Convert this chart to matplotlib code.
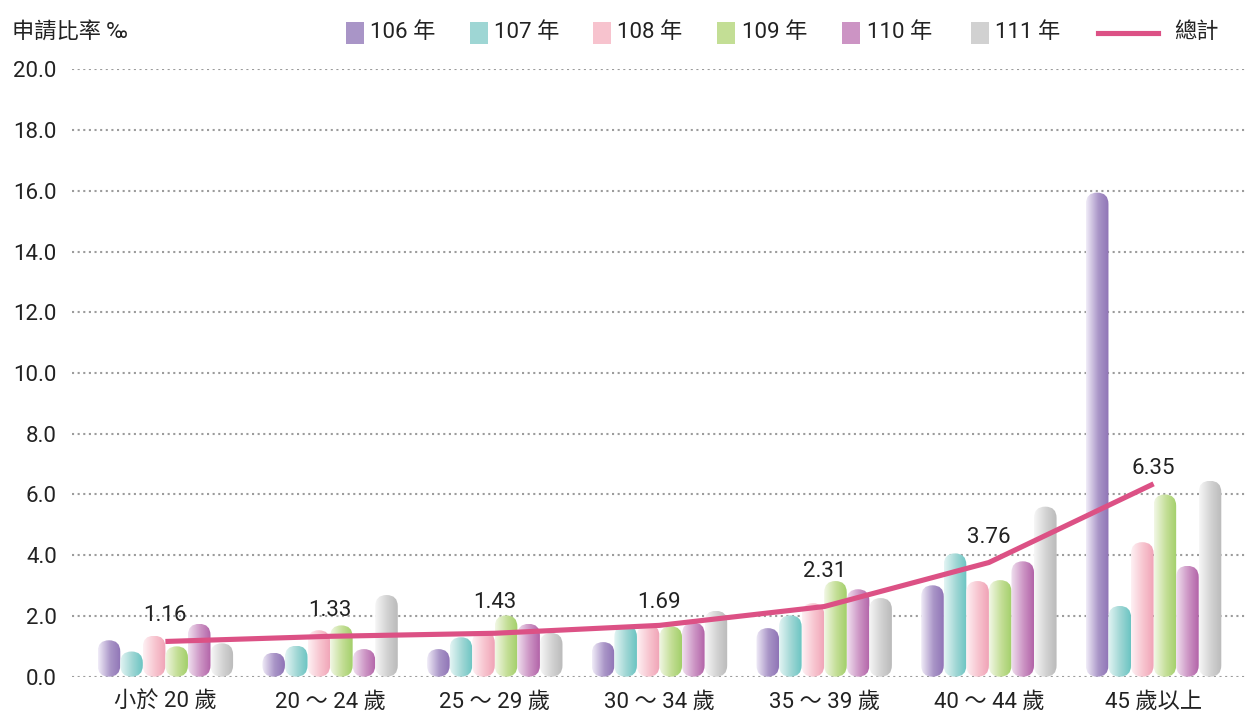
import numpy as np
import matplotlib
matplotlib.use('Agg')
import matplotlib.pyplot as plt
from matplotlib.patches import FancyBboxPatch, Rectangle
from matplotlib.colors import LinearSegmentedColormap
from matplotlib.lines import Line2D

plt.rcParams['font.family'] = ['Roboto', 'Noto Sans CJK TC', 'DejaVu Sans']
plt.rcParams['font.weight'] = 'normal'

# ---------------- data ----------------
categories = ['小於 20 歲', '20 ～ 24 歲', '25 ～ 29 歲', '30 ～ 34 歲',
              '35 ～ 39 歲', '40 ～ 44 歲', '45 歲以上']
series_names = ['106 年', '107 年', '108 年', '109 年', '110 年', '111 年']
v106 = [1.20, 0.79, 0.91, 1.14, 1.60, 3.01, 15.94]
v107 = [0.83, 1.02, 1.30, 1.69, 2.02, 4.06, 2.33]
v108 = [1.35, 1.53, 1.49, 1.71, 2.42, 3.15, 4.43]
v109 = [1.00, 1.69, 2.02, 1.66, 3.15, 3.18, 6.00]
v110 = [1.74, 0.91, 1.74, 1.78, 2.88, 3.80, 3.65]
v111 = [1.10, 2.69, 1.44, 2.17, 2.59, 5.60, 6.45]
total = [1.16, 1.33, 1.43, 1.69, 2.31, 3.76, 6.35]
total_name = '總計'
y_title = '申請比率 ‰'
yticks = [0, 2, 4, 6, 8, 10, 12, 14, 16, 18, 20]

series_values = [v106, v107, v108, v109, v110, v111]
legend_colors = ['#A995C7', '#9ED6D4', '#F7C3CE', '#C3DE95', '#CC94C4', '#D1D1D1']
grad_light = ['#F1EDF8', '#E4F5F4', '#FEF1F4', '#F2F8E6', '#F0E0EF', '#F7F7F7']
grad_dark = ['#8F74B6', '#6AC4C2', '#F0A3B6', '#A2CF69', '#B263A8', '#BABABA']
line_color = '#DC5185'
text_color = '#222222'
label_offsets_pt = [18.5, 18.5, 22, 16.5, 25.5, 18, 11]
FS = 16

# ---------------- figure ----------------
W, H = 1245, 716
fig = plt.figure(figsize=(W / 100, H / 100), dpi=100)
ax_left, ax_right, ax_top, ax_bottom = 72, 1245, 69.3, 676.7
ax = fig.add_axes([ax_left / W, (H - ax_bottom) / H,
                   (ax_right - ax_left) / W, (ax_bottom - ax_top) / H])

xlim = (-0.567, 6.555)
ylim = (0, 20)
ax.set_xlim(*xlim)
ax.set_ylim(*ylim)

px_per_x = (ax_right - ax_left) / (xlim[1] - xlim[0])
px_per_y = (ax_bottom - ax_top) / (ylim[1] - ylim[0])
aspect = px_per_x / px_per_y  # y-units per x-unit for equal pixels

x = np.arange(len(categories))
bw = 0.137
n = len(series_values)

for i, vals in enumerate(series_values):
    bars = ax.bar(x + (i - (n - 1) / 2) * bw, vals, width=bw,
                  color=legend_colors[i], linewidth=0, zorder=2)
    cmap = LinearSegmentedColormap.from_list(
        f'g{i}', [(0, grad_light[i]), (0.55, legend_colors[i]), (1, grad_dark[i])])
    grad = np.linspace(0, 1, 256).reshape(1, -1)
    for rect in bars:
        x0, y0 = rect.get_x(), rect.get_y()
        w, h = rect.get_width(), rect.get_height()
        rect.set_visible(False)
        r = min(w / 2, (h / aspect) / 2)
        patch = FancyBboxPatch((x0, y0), w, h,
                               boxstyle=f'round,pad=0,rounding_size={r}',
                               mutation_aspect=aspect,
                               facecolor='none', edgecolor='none', zorder=2)
        ax.add_patch(patch)
        im = ax.imshow(grad, cmap=cmap, aspect='auto', extent=(x0, x0 + w, y0, y0 + h),
                       interpolation='bilinear', zorder=2)
        im.set_clip_path(patch)

ax.plot(x, total, color=line_color, lw=3.7, zorder=4, solid_capstyle='butt')
for xi, v, off in zip(x, total, label_offsets_pt):
    ax.annotate(f'{v:.2f}', (xi, v), xytext=(0, off), textcoords='offset points',
                ha='center', va='center', fontsize=FS, color=text_color, zorder=5)

ax.set_xlim(*xlim)
ax.set_ylim(*ylim)

ax.set_yticks(yticks)
ax.set_yticklabels([f'{t:.1f}' for t in yticks], fontsize=FS, color=text_color)
ax.set_xticks(x)
ax.set_xticklabels(categories, fontsize=FS, color=text_color)
ax.tick_params(axis='both', length=0)
ax.tick_params(axis='y', pad=11)
ax.tick_params(axis='x', pad=11)
ax.yaxis.grid(True, linestyle=(0, (1, 1.7)), linewidth=1.5, color='#9C9C9C', zorder=0)
ax.set_axisbelow(True)
for s in ax.spines.values():
    s.set_visible(False)

# ---------------- header / legend ----------------
yc = 1 - 33 / H
fig.text(12 / W, yc, y_title, fontsize=FS, color=text_color, va='center', ha='left')
sq_x = [346, 470, 593, 717, 842, 971]
txt_x = [370, 494, 617, 742, 867, 995]
sq_w, sq_h = 18, 21
for i in range(n):
    fig.patches.append(Rectangle((sq_x[i] / W, (H - 33 - sq_h / 2) / H), sq_w / W, sq_h / H,
                                 transform=fig.transFigure, facecolor=legend_colors[i],
                                 edgecolor='none'))
    fig.text(txt_x[i] / W, yc, series_names[i], fontsize=FS, color=text_color,
             va='center', ha='left')
fig.lines.append(Line2D([1098 / W, 1158 / W], [yc, yc], transform=fig.transFigure,
                        color=line_color, lw=3.7))
fig.text(1174 / W, yc, total_name, fontsize=FS, color=text_color, va='center', ha='left')

fig.savefig('out.png', dpi=100)
